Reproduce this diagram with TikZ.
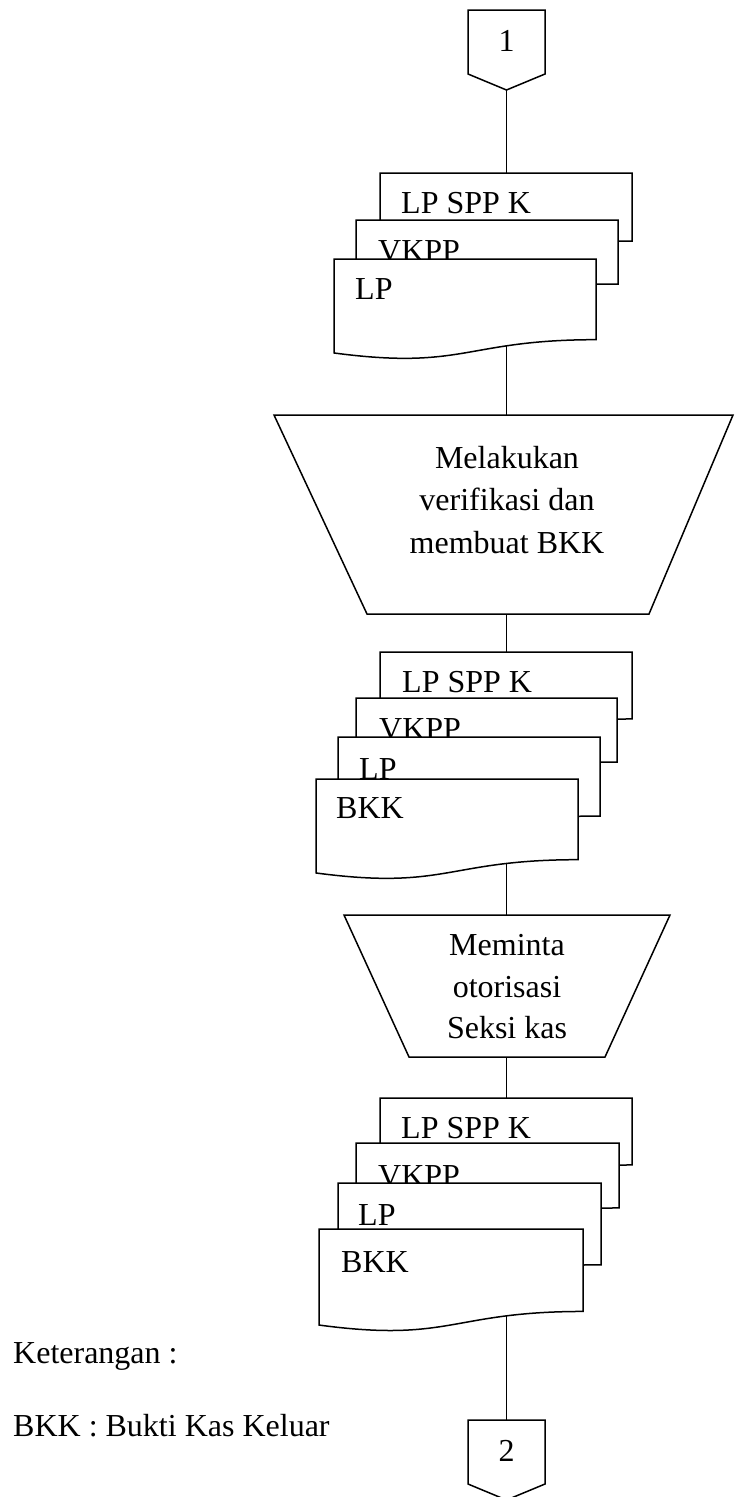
\documentclass[tikz,border=0pt]{standalone}
\usepackage{fontspec}
\setmainfont{Liberation Serif}

\newcommand\flowfont{\fontsize{32}{42}\selectfont}

% paper document: name, left x, top y, width, height
\newcommand\paperdoc[5]{%
  \draw[shape line] (#2,#3) -- (#2+#4,#3) -- (#2+#4,#3+0.802*#5)
    .. controls (#2+0.5*#4,#3+0.802*#5) and (#2+0.5*#4,#3+1.1075*#5) .. (#2,#3+0.934*#5) -- cycle;
  \coordinate (#1) at (#2+0.5*#4,#3+0.5*#5);
}

\tikzset{
  shape line/.style={draw=black, line width=1.5pt, fill=white, line join=miter},
  flow line/.style={draw=black, line width=1.1pt},
  doclabel/.style={inner sep=0pt, anchor=base west, font=\flowfont},
  midlabel/.style={inner sep=0pt, anchor=base, font=\flowfont},
}

\begin{document}
\begin{tikzpicture}[x=1pt, y=-1pt]
\path[use as bounding box] (0,0) rectangle (734,1497);

% anchor points of the flow
\coordinate (c1tip) at (506.5,90);
\coordinate (d1top) at (506.5,173);
\coordinate (p1top) at (506.5,415);
\coordinate (p1bot) at (506.5,614);
\coordinate (d2top) at (506.5,652);
\coordinate (p2top) at (506.5,915);
\coordinate (p2bot) at (506.5,1057);
\coordinate (d3top) at (506.5,1098);
\coordinate (c2top) at (506.5,1420);
\coordinate (d1in) at (506.5,320);
\coordinate (d2in) at (506.5,840);
\coordinate (d3in) at (506.5,1290);

% flow lines (drawn first, documents cover their inner ends)
\draw[flow line] (c1tip) -- (d1top);
\draw[flow line] (d1in) -- (p1top);
\draw[flow line] (p1bot) -- (d2top);
\draw[flow line] (d2in) -- (p2top);
\draw[flow line] (p2bot) -- (d3top);
\draw[flow line] (d3in) -- (c2top);

% off-page connector 1
\draw[shape line] (468,10) -- (545,10) -- (545,74) -- (c1tip) -- (468,74) -- cycle;
\node[midlabel] (c1) at (506.5,51) {1};

% first document stack
\paperdoc{d1a}{380}{173}{252}{84.8}
\node[doclabel] (t1a) at (401,213) {LP SPP K};
\paperdoc{d1b}{356}{220}{262}{79.8}
\node[doclabel] (t1b) at (378,261) {VKPP};
\paperdoc{d1c}{334}{259}{262}{100.6}
\node[doclabel] (t1c) at (355,299) {LP};

% manual operation 1
\draw[shape line] (274,415) -- (733,415) -- (649,614) -- (367,614) -- cycle;
\node[midlabel] (p1a) at (507,468) {Melakukan};
\node[midlabel] (p1b) at (507,510) {verifikasi dan};
\node[midlabel] (p1c) at (507,553) {membuat BKK};

% second document stack
\paperdoc{d2a}{380}{652}{252}{83.5}
\node[doclabel] (t2a) at (402,692) {LP SPP K};
\paperdoc{d2b}{356}{698}{261}{79.8}
\node[doclabel] (t2b) at (379,739) {VKPP};
\paperdoc{d2c}{338}{737}{262}{98.5}
\node[doclabel] (t2c) at (359,779) {LP};
\paperdoc{d2d}{316}{779}{262}{100.6}
\node[doclabel] (t2d) at (336,818) {BKK};

% manual operation 2
\draw[shape line] (344,915) -- (670,915) -- (605,1057) -- (409,1057) -- cycle;
\node[midlabel] (p2a) at (507,955) {Meminta};
\node[midlabel] (p2b) at (507,997) {otorisasi};
\node[midlabel] (p2c) at (507,1038) {Seksi kas};

% third document stack
\paperdoc{d3a}{380}{1098}{252}{83.5}
\node[doclabel] (t3a) at (401,1138) {LP SPP K};
\paperdoc{d3b}{356}{1143}{263}{81}
\node[doclabel] (t3b) at (378,1186) {VKPP};
\paperdoc{d3c}{338}{1183}{263}{102}
\node[doclabel] (t3c) at (358,1225) {LP};
\paperdoc{d3d}{319}{1229}{264}{102.8}
\node[doclabel] (t3d) at (341,1272) {BKK};

% off-page connector 2
\draw[shape line] (c2top) -- (545,1420) -- (545,1484) -- (506.5,1500) -- (468,1484) -- (468,1420) -- cycle;
\node[midlabel] (c2) at (506.5,1461) {2};

% legend
\node[doclabel] (k1) at (13,1363) {Keterangan :};
\node[doclabel] (k2) at (13,1436) {BKK : Bukti Kas Keluar};
\end{tikzpicture}
\end{document}
